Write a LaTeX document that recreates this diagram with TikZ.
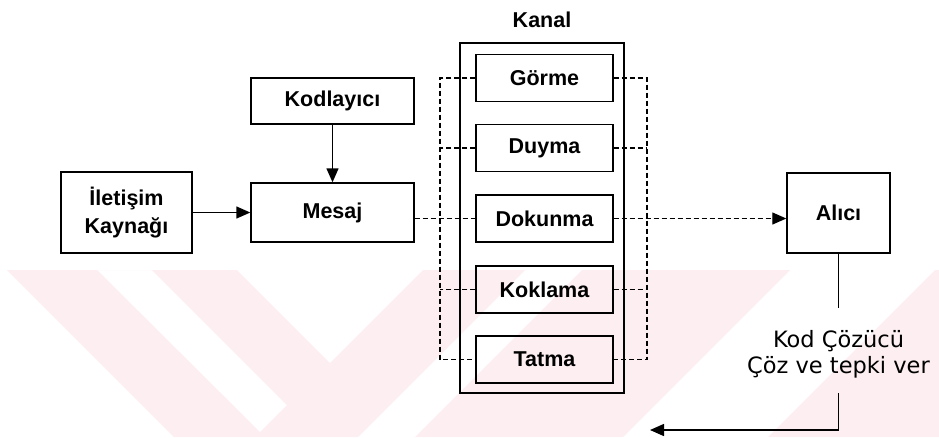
\documentclass[tikz,border=0pt]{standalone}
\usepackage{fontspec}
\setmainfont{Liberation Sans}
\newfontfamily\vfont{DejaVu Sans}
\usetikzlibrary{arrows.meta}
\definecolor{wm}{RGB}{253,238,241}
\begin{document}
\begin{tikzpicture}[x=1pt,y=-1pt,
  box/.style={draw, line width=1.4pt, inner sep=0pt, align=center,
              font=\fontsize{21.5}{28}\selectfont\bfseries},
  chbox/.style={box, minimum width=137pt, minimum height=47pt},
  dline/.style={line width=1.2pt, dash pattern=on 5pt off 3pt},
  sline/.style={line width=1.4pt},
  tip/.style={-{Triangle[length=14pt,width=12pt]}}]
% background and bounding box
\fill[white] (0,0) rectangle (939,437);
\useasboundingbox (0,0) rectangle (939,437);
% faint watermark
\fill[wm, even odd rule] (7,270) -- (237,270) -- (330,363) -- (423,270) -- (525,270) -- (358,437) -- (174,437) -- cycle
      (97,270) -- (152,270) -- (287,405) -- (260,432) -- cycle;
\fill[wm] (582,270) -- (790,270) -- (623,437) -- (415,437) -- cycle;
\fill[wm] (935,270) -- (939,270) -- (939,437) -- (768,437) -- cycle;

% nodes
\node[box, minimum width=131pt, minimum height=81pt] (kaynak) at (126.5,212.5) {İletişim\\Kaynağı};
\node[box, minimum width=163pt, minimum height=46pt] (kodlayici) at (332.5,101) {Kodlayıcı};
\node[box, minimum width=163pt, minimum height=59pt] (mesaj) at (332.5,212.5) {Mesaj};
\node[draw, line width=1.4pt, minimum width=164pt, minimum height=350pt, inner sep=0pt] (kanalbox) at (542,218) {};
\node[font=\fontsize{21.5}{26}\selectfont\bfseries, inner sep=0pt] (kanal) at (542,20) {Kanal};
\node[chbox] (gorme) at (544.5,78) {Görme};
\node[chbox] (duyma) at (544.5,148) {Duyma};
\node[chbox] (dokunma) at (544.5,218.5) {Dokunma};
\node[chbox] (koklama) at (544.5,289.5) {Koklama};
\node[chbox] (tatma) at (544.5,359.5) {Tatma};
\node[box, minimum width=103pt, minimum height=80pt] (alici) at (838.5,213) {Alıcı};
\node[font=\vfont\fontsize{22.5}{26}\selectfont, align=center, inner sep=0pt] (kod) at (838.5,354) {Kod Çözücü\\Çöz ve tepki ver};

\coordinate (busL) at (440,0);
\coordinate (busR) at (647,0);
\coordinate (kodtop) at (838.5,308);
\coordinate (kodbot) at (838.5,393);
\coordinate (fbend) at (650,430);

% solid arrows
\draw[sline, tip] (kaynak) -- (mesaj);
\draw[sline, tip] (kodlayici) -- (mesaj);

% left dashed bus
\draw[dline] (gorme.west) -- (gorme.west -| busL) -- (tatma.west -| busL) -- (tatma.west);
\draw[dline] (duyma.west) -- (duyma.west -| busL);
\draw[dline] (koklama.west) -- (koklama.west -| busL);
\draw[dline] (mesaj.east |- dokunma.west) -- (dokunma.west);

% right dashed bus
\draw[dline] (gorme.east) -- (gorme.east -| busR) -- (tatma.east -| busR) -- (tatma.east);
\draw[dline] (duyma.east) -- (duyma.east -| busR);
\draw[dline] (koklama.east) -- (koklama.east -| busR);
\draw[dline, tip] (dokunma.east) -- (dokunma.east -| alici.west);

% feedback
\draw[sline] (alici.south) -- (kodtop);
\draw[sline, tip] (kodbot) |- (fbend);
\end{tikzpicture}
\end{document}
